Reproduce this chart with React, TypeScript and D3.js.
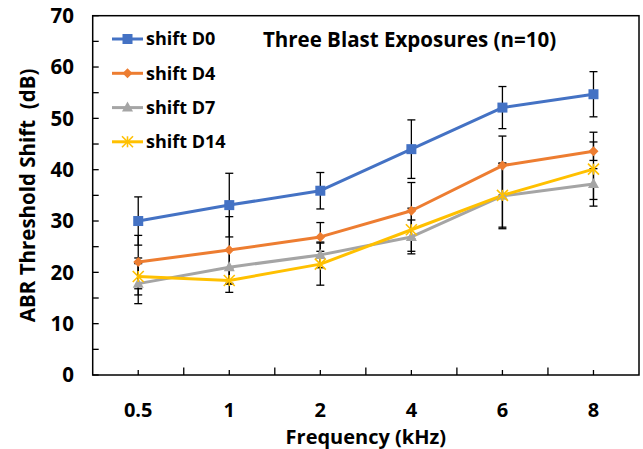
import React from "react";
import * as d3 from "d3";

const categories = ["0.5", "1", "2", "4", "6", "8"];
const seriesNames = ["shift D0", "shift D4", "shift D7", "shift D14"];
const d0 = [30, 33.1, 35.9, 44.0, 52.1, 54.7];
const d0Err = [4.7, 6.2, 3.55, 5.7, 4.1, 4.4];
const d4 = [22, 24.35, 26.9, 32.0, 40.8, 43.6];
const d4Err = [5.2, 6.5, 2.8, 5.5, 5.75, 1.8];
const d7 = [17.8, 21.0, 23.4, 26.9, 34.9, 37.2];
const d7Err = [3.9, 3.3, 2.5, 3.3, 6.4, 3.0];
const d14 = [19.2, 18.4, 21.6, 28.3, 35.0, 40.1];
const d14Err = [3.6, 2.3, 4.1, 4.2, 6.2, 7.2];
const yTicks = [0, 10, 20, 30, 40, 50, 60, 70];
const yMinorTicks = [5, 15, 25, 35, 45, 55, 65];
const colors = ["#4472C4", "#ED7D31", "#A5A5A5", "#FFC000"];
const markerTypes = ["square", "diamond", "triangle", "star"];
const title = "Three Blast Exposures (n=10)";
const yTitle = "ABR Threshold Shift  (dB)";
const xTitle = "Frequency (kHz)";

const FONT = "'Open Sans', sans-serif";

function Marker({ type, x, y, color }: { type: string; x: number; y: number; color: string }) {
  if (type === "square") {
    return <rect x={x - 5} y={y - 5} width={10} height={10} fill={color} />;
  }
  if (type === "diamond") {
    return <path d={`M${x},${y - 5} L${x + 5},${y} L${x},${y + 5} L${x - 5},${y} Z`} fill={color} />;
  }
  if (type === "triangle") {
    return <path d={`M${x},${y - 6} L${x + 5.5},${y + 4} L${x - 5.5},${y + 4} Z`} fill={color} />;
  }
  const r = 5.5;
  return (
    <g stroke={color} strokeWidth={1.6}>
      <line x1={x} y1={y - r} x2={x} y2={y + r} />
      <line x1={x - r} y1={y - r} x2={x + r} y2={y + r} />
      <line x1={x - r} y1={y + r} x2={x + r} y2={y - r} />
    </g>
  );
}

export default function App() {
  const left = 92.7, right = 639, top = 15.7, bottom = 375;
  const x = d3.scaleBand<string>().domain(categories).range([left, right]).padding(0);
  const y = d3.scaleLinear().domain([0, 70]).range([bottom, top]);
  const cx = (c: string) => (x(c) as number) + x.bandwidth() / 2;

  const series = [
    { name: seriesNames[0], values: d0, err: d0Err },
    { name: seriesNames[1], values: d4, err: d4Err },
    { name: seriesNames[2], values: d7, err: d7Err },
    { name: seriesNames[3], values: d14, err: d14Err },
  ];

  const line = d3
    .line<number>()
    .x((_, i) => cx(categories[i]))
    .y((v) => y(v));

  const boundaries = categories.slice(1).map((c) => x(c) as number);

  const legendX0 = 112, legendX1 = 143, legendTextX = 146;
  const legendY = [39, 73.3, 107.6, 141.8];

  return (
    <svg
      width={643}
      height={449}
      style={{ position: "absolute", left: 0, top: 0, display: "block", background: "#fff" }}
      fontFamily={FONT}
    >
      <rect x={0} y={0} width={643} height={449} fill="#fff" />
      {/* error bars */}
      {series.map((s, si) => (
        <g key={"e" + si} stroke="#000" strokeWidth={1.3}>
          {s.values.map((v, i) => {
            const px = cx(categories[i]);
            const y1 = y(v + s.err[i]);
            const y2 = y(v - s.err[i]);
            return (
              <g key={i}>
                <line x1={px} x2={px} y1={y1} y2={y2} />
                <line x1={px - 4} x2={px + 4} y1={y1} y2={y1} />
                <line x1={px - 4} x2={px + 4} y1={y2} y2={y2} />
              </g>
            );
          })}
        </g>
      ))}
      {/* lines */}
      {series.map((s, si) => (
        <path key={"l" + si} d={line(s.values) || ""} fill="none" stroke={colors[si]} strokeWidth={3} strokeLinejoin="round" strokeLinecap="round" />
      ))}
      {/* markers */}
      {series.map((s, si) => (
        <g key={"m" + si}>
          {s.values.map((v, i) => (
            <Marker key={i} type={markerTypes[si]} x={cx(categories[i])} y={y(v)} color={colors[si]} />
          ))}
        </g>
      ))}
      {/* frame */}
      <rect x={left} y={top} width={right - left} height={bottom - top} fill="none" stroke="#000" strokeWidth={1.5} />
      {/* y ticks */}
      {yTicks.concat(yMinorTicks).map((t) => (
        <line key={"yt" + t} x1={left} x2={left + 6} y1={y(t)} y2={y(t)} stroke="#000" strokeWidth={1.3} />
      ))}
      {/* x ticks */}
      {categories.map((c) => (
        <line key={"xc" + c} x1={cx(c)} x2={cx(c)} y1={bottom} y2={bottom - 5} stroke="#000" strokeWidth={1.3} />
      ))}
      {boundaries.map((b, i) => (
        <line key={"xb" + i} x1={b} x2={b} y1={bottom} y2={bottom - 7.5} stroke="#000" strokeWidth={1.3} />
      ))}
      {/* y labels */}
      {yTicks.map((t) => (
        <text key={"yl" + t} x={74} y={y(t)} dy="0.36em" textAnchor="end" fontSize={20.5} fontWeight={700} fill="#000">
          {t}
        </text>
      ))}
      {/* x labels */}
      {categories.map((c) => (
        <text key={"xl" + c} x={cx(c)} y={416.5} textAnchor="middle" fontSize={20} fontWeight={700} fill="#000">
          {c}
        </text>
      ))}
      <text x={(left + right) / 2} y={444} textAnchor="middle" fontSize={20} fontWeight={700} fill="#000">
        {xTitle}
      </text>
      <text
        transform={`translate(28, ${(top + bottom) / 2}) rotate(-90)`}
        dy="0.36em"
        textAnchor="middle"
        fontSize={20.5}
        fontWeight={700}
        fill="#000"
        style={{ whiteSpace: "pre" }}
      >
        {yTitle}
      </text>
      {/* title */}
      <text x={409.5} y={47} textAnchor="middle" fontSize={20.5} fontWeight={700} fill="#000">
        {title}
      </text>
      {/* legend */}
      {seriesNames.map((n, i) => (
        <g key={"lg" + i}>
          <line x1={legendX0} x2={legendX1} y1={legendY[i]} y2={legendY[i]} stroke={colors[i]} strokeWidth={3} />
          <Marker type={markerTypes[i]} x={(legendX0 + legendX1) / 2} y={legendY[i]} color={colors[i]} />
          <text x={legendTextX} y={legendY[i]} dy="0.36em" fontSize={18} fontWeight={700} fill="#000">
            {n}
          </text>
        </g>
      ))}
    </svg>
  );
}
